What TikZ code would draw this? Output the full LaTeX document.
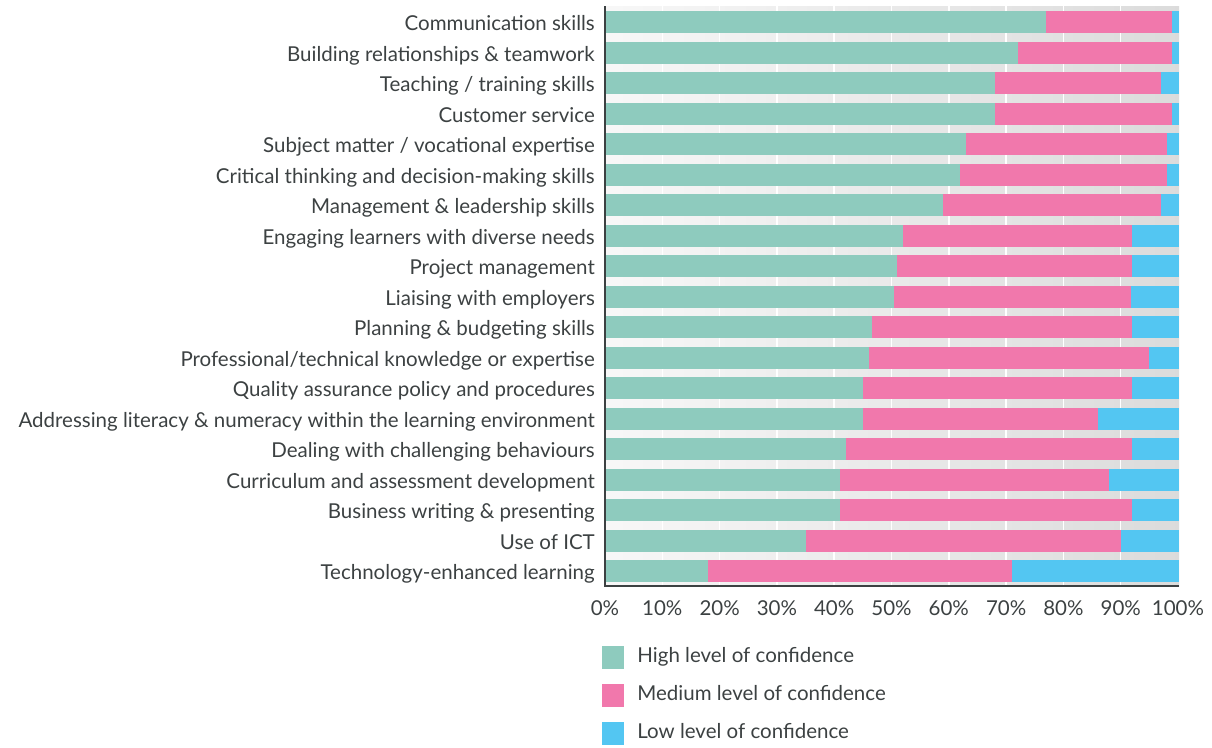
\documentclass[tikz,border=0pt]{standalone}
\usepackage{fontspec}
\setmainfont{Lato}
\usepackage{tikz}
\usetikzlibrary{positioning}
\definecolor{highc}{HTML}{8ECBBE}
\definecolor{medc}{HTML}{F178AC}
\definecolor{lowc}{HTML}{53C6F2}
\definecolor{txtc}{HTML}{3C4142}
\tikzstyle{catlabel} = [anchor=base east, text=txtc, inner sep=0pt, font=\fontsize{20.5}{24}\selectfont]
\tikzstyle{ticklabel} = [anchor=base, text=txtc, inner sep=0pt, font=\fontsize{20.5}{24}\selectfont]
\tikzstyle{keybox} = [rectangle, minimum width=22pt, minimum height=23pt, inner sep=0pt]
\tikzstyle{keytext} = [text=txtc, inner sep=0pt, text height=1.5ex, text depth=.25ex, yshift=-2.5pt, font=\fontsize{20.5}{24}\selectfont]
\tikzstyle{axisline} = [draw=txtc, line width=1.5pt]
\tikzstyle{gridline} = [draw=white, line width=1.5pt]

\begin{document}
\begin{tikzpicture}[x=1pt, y=-1pt]
  \useasboundingbox (0,0) rectangle (1212,747);
  \shade[left color=black!3, right color=black!14] (605,6) rectangle (1179,586);
  \foreach \t in {1,...,9}
    \draw [gridline] ({605+57.3*\t},6) -- ({605+57.3*\t},586);

  \foreach \name/\hi/\mid [count=\i] in {
      Communication skills/77/99,
      Building relationships \& teamwork/72/99,
      {Teaching / training skills}/68/97,
      Customer service/68/99,
      {Subject matter / vocational expertise}/63/98,
      Critical thinking and decision-making skills/62/98,
      Management \& leadership skills/59/97,
      Engaging learners with diverse needs/52/92,
      Project management/51/92,
      Liaising with employers/50.5/91.8,
      Planning \& budgeting skills/46.6/92,
      {Professional/technical knowledge or expertise}/46/95,
      Quality assurance policy and procedures/45/92,
      Addressing literacy \& numeracy within the learning environment/45/86,
      Dealing with challenging behaviours/42/92,
      Curriculum and assessment development/41/88,
      Business writing \& presenting/41/92,
      Use of ICT/35/90,
      Technology-enhanced learning/18/71} {
    \pgfmathsetmacro{\yc}{22+30.5*(\i-1)}
    \fill [highc] (605,{\yc-11}) rectangle ({605+5.73*\hi},{\yc+11});
    \fill [medc] ({605+5.73*\hi},{\yc-11}) rectangle ({605+5.73*\mid},{\yc+11});
    \fill [lowc] ({605+5.73*\mid},{\yc-11}) rectangle (1178.5,{\yc+11});
    \node (cat\i) [catlabel] at (595,{\yc+8.5}) {\name};
  }

  \draw [axisline] (605,6) -- (605,586) -- (1179,586);
  \foreach \t in {0,...,10}
    \node (tick\t) [ticklabel] at ({605+57.3*\t},615.5) {\the\numexpr\t*10\relax\%};

  \node (key1) [keybox, fill=highc] at (613,657) {};
  \node (key2) [keybox, fill=medc] at (613,695) {};
  \node (key3) [keybox, fill=lowc] at (613,733) {};
  \node (keytxt1) [keytext, right=13pt of key1] {High level of confidence};
  \node (keytxt2) [keytext, right=13pt of key2] {Medium level of confidence};
  \node (keytxt3) [keytext, right=13pt of key3] {Low level of confidence};
\end{tikzpicture}
\end{document}
